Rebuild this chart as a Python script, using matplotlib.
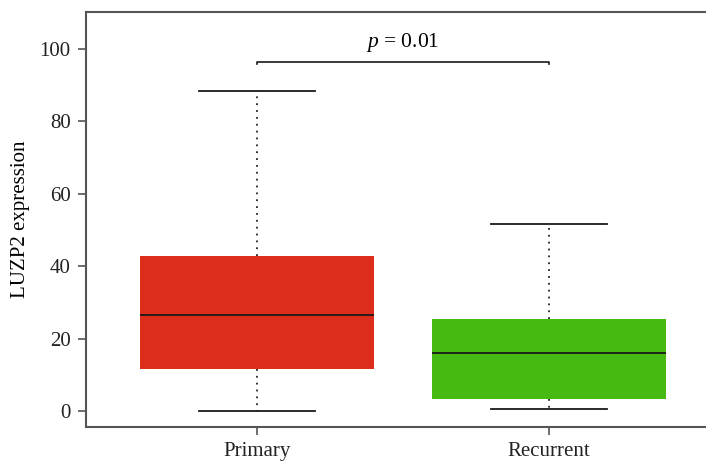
import matplotlib
matplotlib.use("Agg")
import matplotlib.pyplot as plt
import numpy as np

# data
groups = ["Primary", "Recurrent"]
whisker_low = [0.0, 0.5]
q1 = [11.6, 3.2]
median = [26.5, 16.1]
q3 = [42.8, 25.4]
whisker_high = [88.4, 51.6]
colors = ["#DC2C1A", "#46B912"]
yticks = [0, 20, 40, 60, 80, 100]
p_label = "0.01"
bracket_y = 96.5
bracket_drop = 0.7

FONT = "Liberation Serif"
plt.rcParams["font.family"] = FONT
plt.rcParams["mathtext.fontset"] = "custom"
plt.rcParams["mathtext.it"] = FONT + ":italic"
plt.rcParams["mathtext.rm"] = FONT

fig = plt.figure(figsize=(7.06, 4.66), dpi=100)
ax = fig.add_axes([0.1218, 0.0837, 0.8782, 0.8899])

stats = []
for i, g in enumerate(groups):
    stats.append(dict(label=g, whislo=whisker_low[i], q1=q1[i], med=median[i],
                      q3=q3[i], whishi=whisker_high[i], fliers=[]))

pos = np.arange(1, len(groups) + 1)
bp = ax.bxp(stats, positions=pos, widths=0.8, patch_artist=True, showfliers=False,
            boxprops=dict(linewidth=0),
            medianprops=dict(color="#1a1a1a", linewidth=1.3),
            whiskerprops=dict(color="#222222", linewidth=1.3, linestyle=(0, (1, 2.8))),
            capprops=dict(color="#1a1a1a", linewidth=1.3),
            capwidths=0.4)
for patch, c in zip(bp["boxes"], colors):
    patch.set_facecolor(c)
    patch.set_edgecolor(c)

# significance bracket
ax.plot([pos[0], pos[0], pos[1], pos[1]],
        [bracket_y - bracket_drop, bracket_y, bracket_y, bracket_y - bracket_drop],
        color="#1a1a1a", linewidth=1.2)
ax.text(pos.mean(), bracket_y + 2.2, r"$p$ = " + p_label, ha="center", va="bottom", fontsize=15.5)

ax.set_xlim(0.4144, 2.5377)
ax.set_ylim(-4.4, 110.1)
ax.set_yticks(yticks)
ax.set_xticks(pos)
ax.set_xticklabels(groups)
ax.set_ylabel("LUZP2 expression", fontsize=15, labelpad=7)
ax.tick_params(axis="both", labelsize=15, length=6, width=1.2, color="#555555",
               labelcolor="#222222", pad=5)

ax.spines["right"].set_visible(False)
for s in ["left", "top", "bottom"]:
    ax.spines[s].set_color("#555555")
    ax.spines[s].set_linewidth(1.5)

fig.savefig("out.png", dpi=100)
